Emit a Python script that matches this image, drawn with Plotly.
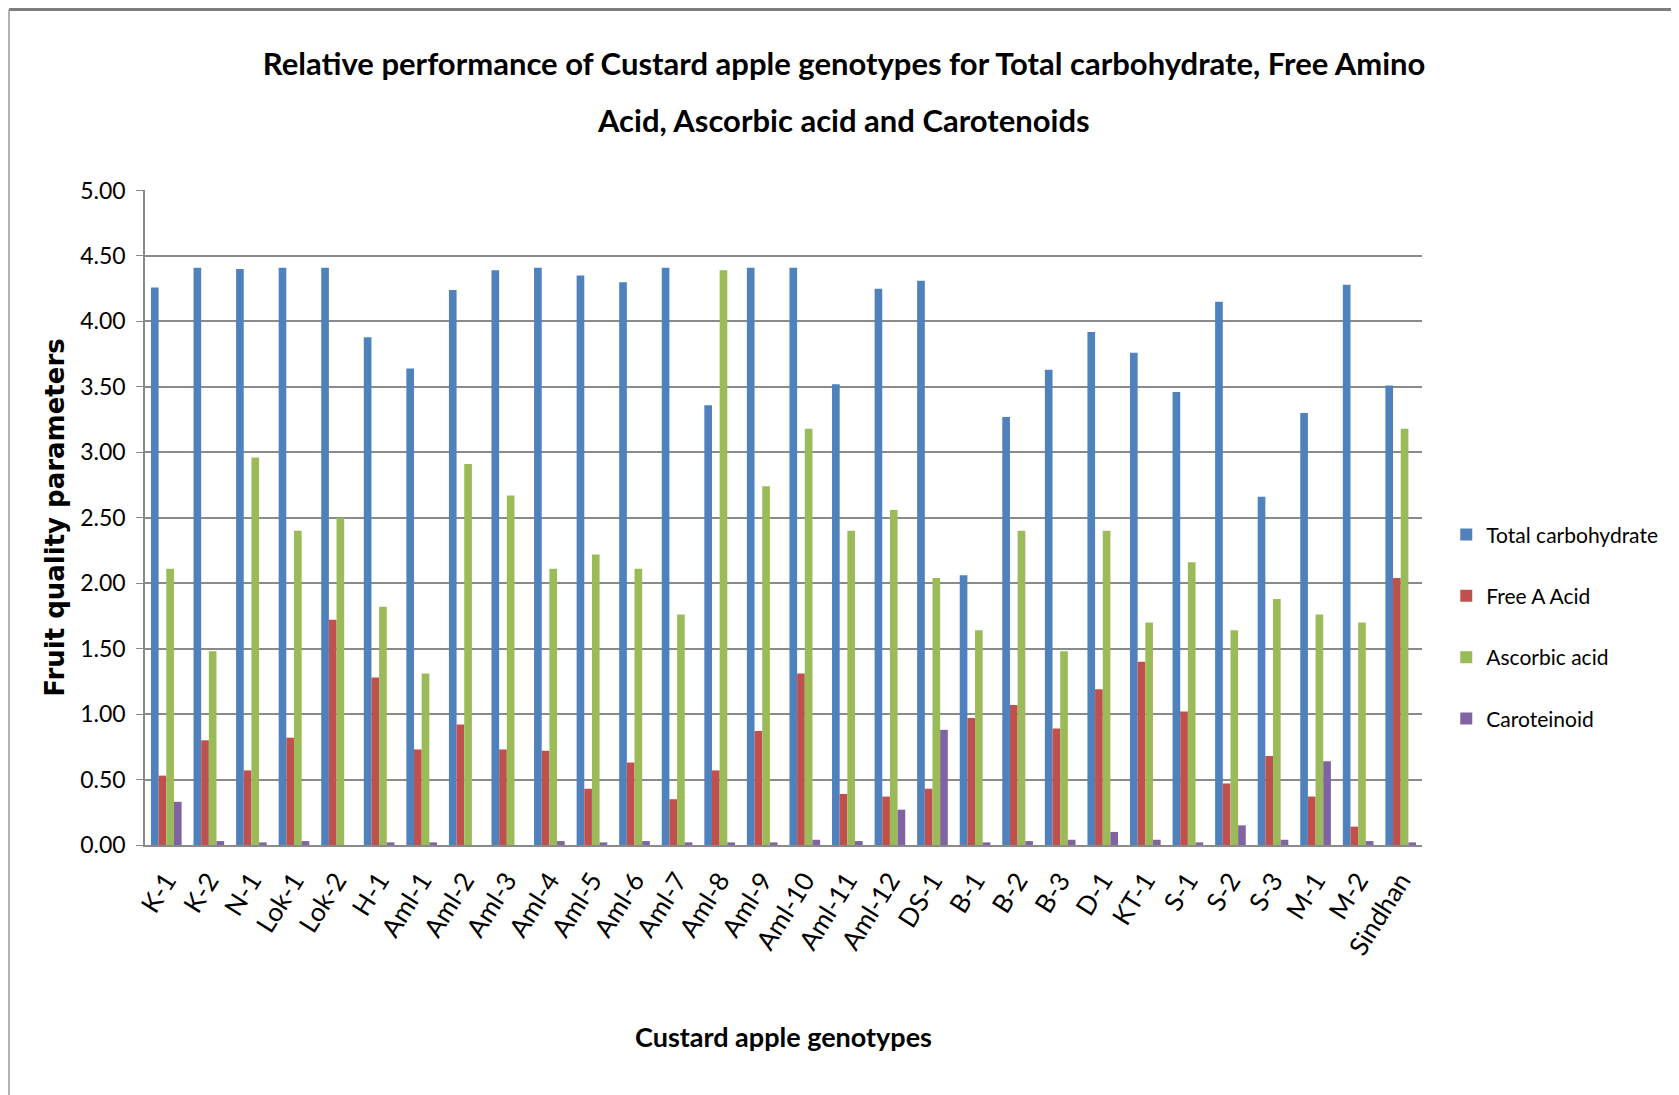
import plotly.graph_objects as go

# -----------------------------
# DATA
# -----------------------------
genotypes = [
    "K-1", "K-2", "N-1", "Lok-1", "Lok-2", "H-1", "Aml-1", "Aml-2", "Aml-3",
    "Aml-4", "Aml-5", "Aml-6", "Aml-7", "Aml-8", "Aml-9", "Aml-10", "Aml-11",
    "Aml-12", "DS-1", "B-1", "B-2", "B-3", "D-1", "KT-1", "S-1", "S-2", "S-3",
    "M-1", "M-2", "Sindhan",
]

total_carbohydrate = [
    4.26, 4.41, 4.40, 4.41, 4.41, 3.88, 3.64, 4.24, 4.39, 4.41,
    4.35, 4.30, 4.41, 3.36, 4.41, 4.41, 3.52, 4.25, 4.31, 2.06,
    3.27, 3.63, 3.92, 3.76, 3.46, 4.15, 2.66, 3.30, 4.28, 3.51,
]

free_a_acid = [
    0.53, 0.80, 0.57, 0.82, 1.72, 1.28, 0.73, 0.92, 0.73, 0.72,
    0.43, 0.63, 0.35, 0.57, 0.87, 1.31, 0.39, 0.37, 0.43, 0.97,
    1.07, 0.89, 1.19, 1.40, 1.02, 0.47, 0.68, 0.37, 0.14, 2.04,
]

ascorbic_acid = [
    2.11, 1.48, 2.96, 2.40, 2.50, 1.82, 1.31, 2.91, 2.67, 2.11,
    2.22, 2.11, 1.76, 4.39, 2.74, 3.18, 2.40, 2.56, 2.04, 1.64,
    2.40, 1.48, 2.40, 1.70, 2.16, 1.64, 1.88, 1.76, 1.70, 3.18,
]

caroteinoid = [
    0.33, 0.03, 0.02, 0.03, 0.00, 0.02, 0.02, 0.00, 0.00, 0.03,
    0.02, 0.03, 0.02, 0.02, 0.02, 0.04, 0.03, 0.27, 0.88, 0.02,
    0.03, 0.04, 0.10, 0.04, 0.02, 0.15, 0.04, 0.64, 0.03, 0.02,
]

series = [
    ("Total carbohydrate", total_carbohydrate, "#4F81BD"),
    ("Free A Acid", free_a_acid, "#C0504D"),
    ("Ascorbic acid", ascorbic_acid, "#9BBB59"),
    ("Caroteinoid", caroteinoid, "#8064A2"),
]

font_main = "Lato, Open Sans, sans-serif"

fig = go.Figure()

for name, values, colour in series:
    fig.add_trace(go.Bar(
        x=genotypes,
        y=values,
        name=name,
        legendgroup=name,
        marker=dict(color=colour, line=dict(width=0)),
    ))

fig.update_layout(
    width=1679,
    height=1095,
    barmode="group",
    bargap=0.28,
    bargroupgap=0,
    plot_bgcolor="white",
    paper_bgcolor="white",
    margin=dict(l=137, r=265, t=182, b=258, autoexpand=False),
    title=dict(
        text="Relative performance of Custard apple genotypes for Total carbohydrate, Free Amino",
        x=0.498,
        xanchor="center",
        y=0.949,
        yanchor="middle",
        font=dict(family=font_main, size=31, color="black", weight="bold"),
    ),
    legend=dict(
        x=1.019,
        y=0.333,
        xanchor="left",
        yanchor="middle",
        font=dict(family=font_main, size=21, color="black"),
        traceorder="grouped",
        tracegroupgap=31,
        itemwidth=30,
    ),
    showlegend=True,
)

# second line of the title
fig.add_annotation(
    text="Acid, Ascorbic acid and Carotenoids",
    xref="paper", yref="paper",
    x=0.547, y=1.107,
    xanchor="center", yanchor="middle",
    showarrow=False,
    font=dict(family=font_main, size=31, color="black", weight="bold"),
)

fig.update_yaxes(
    range=[0, 5.004],
    dtick=0.5,
    tickformat=".2f",
    showgrid=True,
    gridcolor="#8a8a8a",
    gridwidth=1.5,
    showline=True,
    linecolor="#8a8a8a",
    linewidth=1.5,
    ticks="outside",
    ticklen=7,
    tickcolor="#8a8a8a",
    ticklabelstandoff=6,
    tickfont=dict(family=font_main, size=23, color="black"),
    title=dict(
        text="<b>Fruit quality parameters</b>",
        font=dict(family="DejaVu Sans", size=26, color="black"),
        standoff=8,
    ),
    zeroline=False,
)

fig.update_xaxes(
    showline=True,
    linecolor="#8a8a8a",
    linewidth=2,
    tickangle=-58,
    ticklabelstandoff=8,
    tickfont=dict(family=font_main, size=26, color="black"),
    title=dict(
        text="Custard apple genotypes",
        font=dict(family=font_main, size=27, color="black", weight="bold"),
        standoff=68,
    ),
)

# outer chart frame (top and left edges visible in the reference)
fig.add_shape(type="line", xref="paper", yref="paper",
              x0=-0.1065, x1=1.25, y0=1.2756, y1=1.2756,
              line=dict(color="#7f7f7f", width=3))
fig.add_shape(type="line", xref="paper", yref="paper",
              x0=-0.1065, x1=-0.1065, y0=-0.45, y1=1.2756,
              line=dict(color="#9a9a9a", width=1.5))

fig.write_html("out.html")
